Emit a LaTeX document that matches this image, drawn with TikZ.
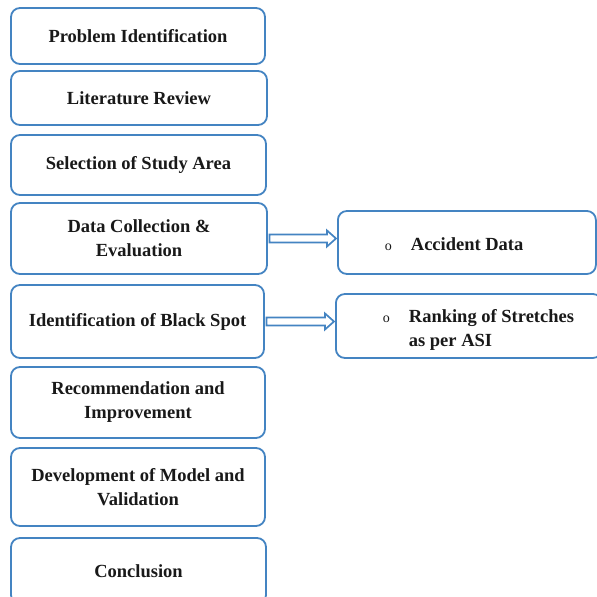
\documentclass[tikz,border=0pt]{standalone}
\usepackage{fontspec}
\setmainfont{Liberation Serif}
\usetikzlibrary{calc}

\begin{document}
\begin{tikzpicture}[x=1pt,y=1pt,
  stepbox/.style={draw=boxColor,line width=1.8pt,rounded corners=9pt,fill=white,
    align=center,inner sep=0pt,text=textColor,
    font=\bfseries\fontsize{18.5}{24}\selectfont},
  sidebox/.style={stepbox,align=left,anchor=west,inner xsep=47pt},
  blockarrow/.style={draw=boxColor,line width=1.7pt,fill=white,line join=miter,
    to path={let \p1=(\tikztostart), \p2=(\tikztotarget) in
      (\x1+1.5pt,\y1+4pt) -- (\x2-10pt,\y1+4pt) -- (\x2-10pt,\y1+8pt) --
      (\x2-1pt,\y1) -- (\x2-10pt,\y1-8pt) -- (\x2-10pt,\y1-4pt) --
      (\x1+1.5pt,\y1-4pt) -- cycle}}]
\definecolor{boxColor}{RGB}{68,132,194}
\definecolor{textColor}{RGB}{25,25,25}
\newcommand{\bulo}{{\mdseries\fontsize{14}{14}\selectfont o}}
\path[use as bounding box,fill=white] (0,0) rectangle (597,597);
\begin{scope}
\path[clip] (0,0) rectangle (597,597);

% main column
\node[stepbox,minimum width=254pt,minimum height=56pt] (prob) at (138,561) {Problem Identification};
\node[stepbox,minimum width=256pt,minimum height=54pt] (lit) at (139,499) {Literature Review};
\node[stepbox,minimum width=255pt,minimum height=60pt] (area) at (138.5,432) {Selection of Study Area};
\node[stepbox,minimum width=256pt,minimum height=71pt] (data) at (139,358.5) {Data Collection \&\\Evaluation};
\node[stepbox,minimum width=253pt,minimum height=73pt] (spot) at (137.5,275.5) {Identification of Black Spot};
\node[stepbox,minimum width=254pt,minimum height=71pt] (rec) at (138,194.5) {Recommendation and\\Improvement};
\node[stepbox,minimum width=254pt,minimum height=78pt] (model) at (138,110) {Development of Model and\\Validation};
\node[stepbox,minimum width=255pt,minimum height=66pt] (conc) at (138.5,26) {Conclusion};

% side boxes
\node[sidebox,text width=164pt,minimum height=63pt] (acc) at (337,354.5)
  {\spaceskip=0pt\xspaceskip=0pt\raisebox{-3.5pt}[\height][\depth]{\begin{tabular}{@{}l@{\hspace{19pt}}l@{}}\bulo & Accident Data\end{tabular}}};
\node[sidebox,text width=172pt,minimum height=64pt] (rank) at (335,271)
  {\spaceskip=0pt\xspaceskip=0pt\raisebox{-3.5pt}[\height][\depth]{\begin{tabular}{@{}l@{\hspace{19pt}}l@{}}\bulo & Ranking of Stretches\\ & as per ASI\end{tabular}}};

% arrows
\draw[blockarrow] (data.east) to (acc.west);
\draw[blockarrow] (spot.east) to (rank.west);
\end{scope}
\end{tikzpicture}
\end{document}
